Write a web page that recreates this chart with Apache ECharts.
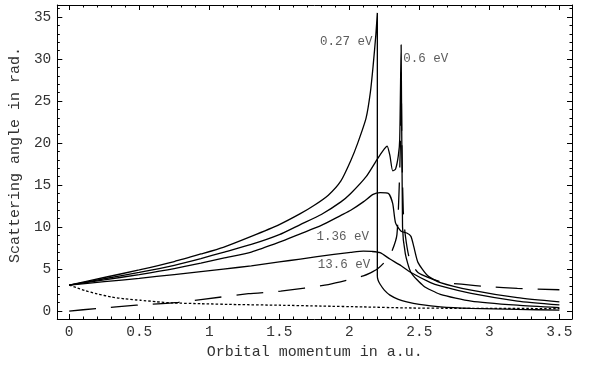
<!DOCTYPE html>
<html>
<head>
<meta charset="utf-8">
<script src="https://cdn.jsdelivr.net/npm/echarts@6/dist/echarts.min.js"></script>
<style>
  html, body { margin: 0; padding: 0; background: #fff; }
  #chart { width: 589px; height: 365px; }
</style>
</head>
<body>
<div id="chart"></div>
<script>
// 0.27 eV
var xA = [0, 0.25, 0.5, 0.75, 0.94, 1.1, 1.3, 1.5, 1.65, 1.75, 1.85, 1.94, 2.01, 2.06, 2.12, 2.15, 2.17, 2.19, 2.2, 2.2, 2.205, 2.22, 2.25, 2.29, 2.35, 2.41, 2.5, 2.65, 2.87, 3.2, 3.5];
var yA = [3.1, 4.0, 4.9, 5.9, 6.8, 7.6, 8.9, 10.3, 11.6, 12.6, 13.8, 15.5, 17.9, 20, 23, 26, 29.2, 33, 35.5, 4.2, 3.7, 3.2, 2.5, 1.9, 1.4, 1.1, 0.8, 0.5, 0.32, 0.2, 0.12];
// 0.6 eV
var xB = [0, 0.25, 0.5, 0.75, 0.94, 1.1, 1.3, 1.5, 1.65, 1.8, 1.94, 2.01, 2.12, 2.2, 2.25, 2.27, 2.29, 2.31, 2.33, 2.35, 2.36, 2.37, 2.38, 2.4, 2.44, 2.53, 2.65, 2.87, 3.2, 3.5];
var yB = [3.1, 3.85, 4.6, 5.45, 6.25, 7.0, 7.93, 9.1, 10.3, 11.5, 13.0, 14.0, 16.0, 18.1, 19.3, 19.65, 18.5, 16.7, 16.9, 18.5, 20.5, 31.7, 10, 6.8, 4.6, 3.0, 2.0, 1.2, 0.7, 0.4];
// 1.36 eV
var xC = [0, 0.25, 0.5, 0.75, 0.94, 1.1, 1.3, 1.5, 1.65, 1.8, 1.94, 2.01, 2.1, 2.17, 2.22, 2.28, 2.31, 2.33, 2.37, 2.41, 2.44, 2.46, 2.49, 2.56, 2.65, 2.87, 3.2, 3.5];
var yC = [3.1, 3.72, 4.35, 5.05, 5.7, 6.3, 7.03, 8.2, 9.2, 10.2, 11.4, 12.0, 13.0, 13.9, 14.1, 14.0, 12.8, 10.5, 9.5, 9.3, 8.9, 7.7, 5.8, 4.2, 3.4, 2.5, 1.6, 1.09];
// 13.6 eV
var xD = [0, 0.25, 0.5, 0.75, 0.94, 1.1, 1.3, 1.5, 1.65, 1.89, 2.01, 2.1, 2.16, 2.22, 2.29, 2.37, 2.44, 2.58, 2.65, 2.87, 3.2, 3.5];
var yD = [3.1, 3.5, 3.9, 4.35, 4.7, 5.0, 5.39, 5.85, 6.2, 6.76, 7.0, 7.15, 7.1, 6.95, 6.2, 5.4, 4.6, 3.4, 3.0, 2.1, 1.2, 0.75];
// dashed curve
var xE = [0, 0.19, 0.48, 0.78, 0.94, 1.28, 1.51, 1.85, 2.1, 2.2, 2.29, 2.34, 2.365, 2.37, 2.375, 2.385, 2.4, 2.43, 2.49, 2.65, 2.8, 3.0, 3.2, 3.5];
var yE = [0, 0.3, 0.7, 1.05, 1.37, 2.07, 2.38, 3.16, 4.2, 5.0, 6.6, 9.1, 20, 28.4, 20, 12, 9, 6.2, 4.6, 3.5, 3.2, 2.9, 2.7, 2.54];
// dotted curve
var xF = [0, 0.05, 0.11, 0.2, 0.3, 0.4, 0.51, 0.62, 0.73, 0.94, 1.2, 1.5, 1.8, 2.1, 2.4, 2.8, 3.5];
var yF = [3.1, 2.8, 2.46, 2.05, 1.68, 1.45, 1.29, 1.12, 0.98, 0.88, 0.78, 0.7, 0.6, 0.5, 0.38, 0.33, 0.3];

// curve labels
var labelText = ['0.27 eV', '0.6 eV', '1.36 eV', '13.6 eV'];
var labelX = [2.165, 2.385, 2.14, 2.15];
var labelY = [32.1, 30, 8.9, 5.5];

var xTicks = [0, 0.5, 1, 1.5, 2, 2.5, 3, 3.5];
var yTicks = [0, 5, 10, 15, 20, 25, 30, 35];

var xMin = -0.085, xMax = 3.59, yMin = -0.94, yMax = 36.44;

var xMinor = [];
for (var i = 0; i <= 35; i++) xMinor.push(+(i * 0.1).toFixed(1));
var yMinor = [];
for (var j = 0; j <= 36; j++) yMinor.push(j);

function pairs(xs, ys) {
  return xs.map(function (x, k) { return [x, ys[k]]; });
}

var mono = 'Liberation Mono';
var txt = '#333';

function xAx(pos, ticks, len, labels) {
  return {
    type: 'value', position: pos, min: xMin, max: xMax,
    axisLine: { show: len > 3, onZero: false, lineStyle: { color: '#000', width: 1 } },
    axisTick: { show: true, inside: true, length: len, customValues: ticks, lineStyle: { color: '#000' } },
    axisLabel: labels ? { show: true, customValues: ticks, margin: 6, color: txt, fontFamily: mono, fontSize: 14.5 } : { show: false },
    splitLine: { show: false }
  };
}
function yAx(pos, ticks, len, labels) {
  return {
    type: 'value', position: pos, min: yMin, max: yMax,
    axisLine: { show: len > 3, onZero: false, lineStyle: { color: '#000', width: 1 } },
    axisTick: { show: true, inside: true, length: len, customValues: ticks, lineStyle: { color: '#000' } },
    axisLabel: labels ? { show: true, customValues: ticks, margin: 6, color: txt, fontFamily: mono, fontSize: 14.5 } : { show: false },
    splitLine: { show: false }
  };
}

var xAxes = [xAx('bottom', xTicks, 5, true), xAx('bottom', xMinor, 2.5, false), xAx('top', xTicks, 5, false), xAx('top', xMinor, 2.5, false)];
xAxes[0].name = 'Orbital momentum in a.u.';
xAxes[0].nameLocation = 'middle';
xAxes[0].nameGap = 26;
xAxes[0].nameTextStyle = { color: txt, fontFamily: mono, fontSize: 15 };

var yAxes = [yAx('left', yTicks, 5, true), yAx('left', yMinor, 2.5, false), yAx('right', yTicks, 5, false), yAx('right', yMinor, 2.5, false)];
yAxes[0].name = 'Scattering angle in rad.';
yAxes[0].nameLocation = 'middle';
yAxes[0].nameRotate = 90;
yAxes[0].nameGap = 34;
yAxes[0].nameTextStyle = { color: txt, fontFamily: mono, fontSize: 15, padding: [0, 0, 0, 14] };

function curve(xs, ys, dash) {
  return {
    type: 'line', xAxisIndex: 0, yAxisIndex: 0, data: pairs(xs, ys),
    showSymbol: false, symbol: 'none', silent: true,
    smooth: 0.2,
    lineStyle: { color: '#000', width: 1.3, type: dash || 'solid' }
  };
}

var labelPos = ['left', 'right', 'left', 'left'];

var option = {
  animation: false,
  backgroundColor: '#fff',
  grid: { left: 56, right: 17, top: 5, bottom: 41 },
  xAxis: xAxes,
  yAxis: yAxes,
  series: [
    curve(xA, yA),
    curve(xB, yB),
    curve(xC, yC),
    curve(xD, yD),
    curve(xE, yE, [27, 15]),
    curve(xF, yF, [2.5, 2]),
    {
      type: 'scatter', symbolSize: 0, silent: true,
      data: labelText.map(function (t, k) {
        return {
          value: [labelX[k], labelY[k]],
          label: { show: true, formatter: t, position: labelPos[k], distance: 0,
                   color: txt, fontFamily: mono, fontSize: 12.5 }
        };
      })
    }
  ]
};

var myChart = echarts.init(document.getElementById('chart'));
myChart.setOption(option);
</script>
</body>
</html>
